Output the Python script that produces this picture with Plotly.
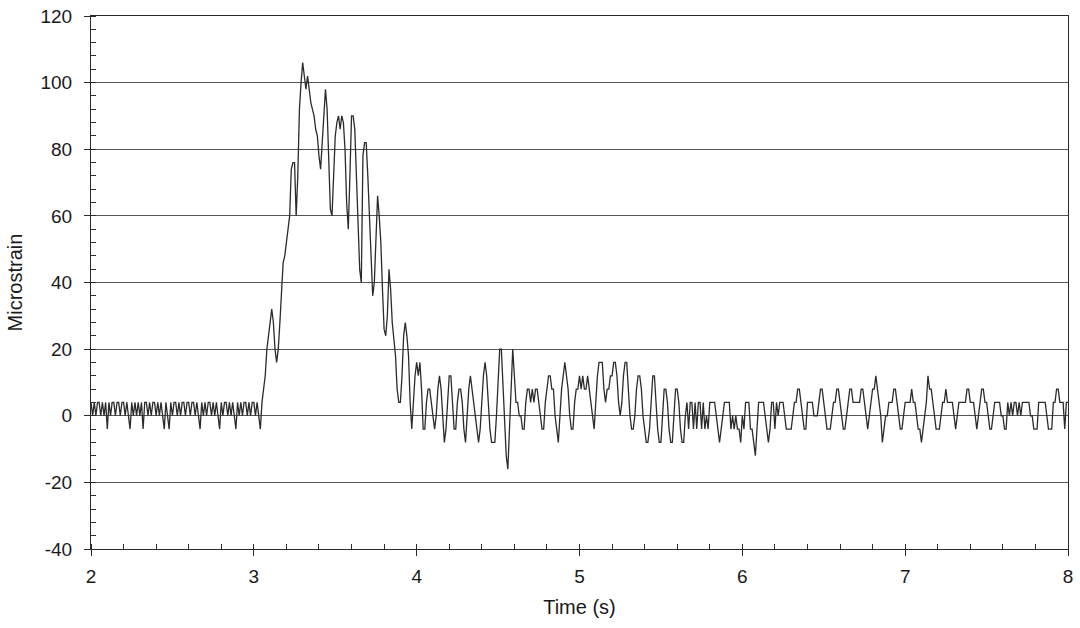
import numpy as np
import plotly.graph_objects as go

# Strain gauge record, sampled every 0.01 s from t = 2.00 s
DT = 0.01
T0 = 2.0

# 2.00 - 2.99 s : quiet baseline
strain_2s = [
    4, 0, 4, 0, 4, 4, 0, 4, 0, 4,
    -4, 4, 0, 4, 4, 0, 4, 4, 0, 4,
    4, 0, 4, 0, -4, 4, 0, 4, 0, 4,
    0, 4, -4, 4, 4, 0, 4, 0, 4, 4,
    0, 4, 0, 4, 0, -4, 4, 0, -4, 4,
    0, 4, 4, 0, 4, 0, 4, 4, 0, 4,
    4, 0, 4, 4, 0, 4, 0, -4, 4, 0,
    4, 0, 4, 4, 0, 4, 0, 4, 0, -4,
    4, 0, 4, 4, 0, 4, 0, 4, 0, -4,
    4, 0, 4, 0, 4, 4, 0, 4, 0, 4,
]

# 3.00 - 3.99 s : load passage
strain_3s = [
    4, 0, 4, 0, -4, 4, 8, 12, 20, 24,
    28, 32, 28, 20, 16, 20, 28, 36, 46, 48,
    52, 56, 60, 74, 76, 76, 60, 72, 92, 100,
    106, 102, 98, 102, 98, 94, 92, 90, 86, 84,
    78, 74, 82, 92, 98, 92, 74, 62, 60, 70,
    84, 88, 90, 86, 90, 88, 80, 64, 56, 72,
    90, 90, 86, 72, 58, 44, 40, 78, 82, 82,
    72, 58, 44, 36, 40, 54, 66, 60, 52, 38,
    26, 24, 30, 44, 38, 28, 22, 18, 8, 4,
    4, 12, 24, 28, 24, 18, 4, -4, 4, 12,
]

# 4.00 - 4.99 s : free vibration
strain_4s = [
    16, 12, 16, 8, -4, -4, 4, 8, 8, 4,
    0, -4, 0, 8, 12, 8, 0, -8, -4, 4,
    12, 12, 4, -4, -4, 4, 8, 8, 4, -4,
    -8, 0, 8, 12, 8, 4, 0, -4, -8, -4,
    4, 12, 16, 12, 4, -4, -8, -8, -8, 0,
    12, 20, 20, 8, -4, -12, -16, -4, 12, 20,
    12, 4, 4, 0, 0, -4, -4, 4, 8, 8,
    4, 8, 4, 8, 8, 4, 0, -4, -4, 4,
    8, 12, 12, 8, 8, 0, -4, -8, 0, 8,
    12, 16, 12, 8, 0, -4, -4, 4, 8, 8,
]

# 5.00 - 5.99 s
strain_5s = [
    12, 8, 12, 8, 8, 12, 8, 4, 0, -4,
    4, 12, 16, 16, 16, 8, 4, 8, 8, 12,
    12, 16, 16, 12, 4, 0, 4, 12, 16, 16,
    8, 0, -4, -4, 0, 8, 12, 12, 8, 0,
    -4, -8, -8, -4, 4, 12, 12, 4, -4, -8,
    -8, 0, 8, 8, 4, -4, -8, -8, 0, 8,
    8, 4, -4, -8, -8, 0, 4, -4, 4, 4,
    -4, 4, -4, 4, 4, -4, 4, -4, 0, -4,
    4, 4, 4, 4, 0, -4, -8, -4, 0, 4,
    4, 4, 4, -4, 0, -4, 0, -4, -4, -8,
]

# 6.00 - 6.99 s
strain_6s = [
    0, -4, 4, 4, 4, -4, -4, -8, -12, -4,
    4, 4, 4, 4, 0, -4, -8, -4, 4, 4,
    -4, 4, 0, 4, 4, 4, 0, -4, -4, -4,
    -4, 0, 4, 4, 8, 8, 4, 0, -4, -4,
    4, 4, 4, 4, 0, 0, 0, 4, 8, 8,
    4, 0, -4, -4, -4, 0, 4, 4, 8, 8,
    4, 0, -4, -4, 0, 4, 8, 8, 4, 4,
    4, 4, 4, 8, 8, 4, 0, -4, 0, 4,
    8, 8, 12, 8, 4, 0, -8, -4, 0, 0,
    4, 4, 4, 8, 8, 4, 0, -4, -4, 0,
]

# 7.00 - 8.00 s
strain_7s = [
    4, 4, 4, 4, 8, 4, 4, 0, -4, -4,
    -8, -4, 0, 4, 12, 8, 8, 4, 0, -4,
    -4, -4, 0, 4, 4, 8, 4, 4, 4, 4,
    0, -4, 0, 4, 4, 4, 4, 4, 8, 8,
    4, 4, 4, 0, -4, 0, 4, 8, 8, 4,
    4, 0, -4, -4, 0, 4, 4, 4, 4, 0,
    0, -4, -4, 4, 0, 4, 0, 4, 4, 0,
    4, 0, 4, 4, 4, 4, 4, 0, 0, -4,
    -4, -4, 4, 4, 4, 4, 4, 0, -4, -4,
    -4, 4, 4, 8, 8, 4, 4, 4, -4, 4,
    4,
]

# axis tick labels
y_ticks = [-40, -20, 0, 20, 40, 60, 80, 100, 120]
y_labels = ["-40", "-20", "0", "20", "40", "60", "80", "100", "120"]
x_ticks = [2, 3, 4, 5, 6, 7, 8]
x_labels = ["2", "3", "4", "5", "6", "7", "8"]

strain = strain_2s + strain_3s + strain_4s + strain_5s + strain_6s + strain_7s
time_s = T0 + np.arange(len(strain)) * DT

FONT = "Liberation Sans, Arial, sans-serif"
INK = "#2b2b2b"

fig = go.Figure()
fig.add_trace(go.Scatter(
    x=time_s, y=strain, mode="lines",
    line=dict(color=INK, width=1.3),
    hoverinfo="skip", showlegend=False,
))
# empty trace to activate the overlay axis carrying inward major x ticks
fig.add_trace(go.Scatter(x=[2, 8], y=[None, None], xaxis="x2",
                         mode="lines", showlegend=False, hoverinfo="skip"))

fig.update_layout(
    width=1080, height=628,
    margin=dict(l=91, r=12, t=16, b=79),
    paper_bgcolor="white", plot_bgcolor="white",
    font=dict(family=FONT, size=19, color="#1a1a1a"),
    xaxis=dict(
        range=[2, 8], tickmode="array", tickvals=x_ticks, ticktext=x_labels,
        ticks="outside", ticklen=6, tickwidth=1, tickcolor=INK,
        minor=dict(tick0=2, dtick=0.2, ticks="inside", ticklen=5, tickwidth=1,
                   tickcolor=INK, showgrid=False),
        showgrid=False, zeroline=False, automargin=False,
        showline=True, linecolor=INK, linewidth=1.2, mirror=True,
        title=dict(text="Time (s)", font=dict(size=20), standoff=14),
        ticklabelstandoff=4,
    ),
    xaxis2=dict(
        range=[2, 8], overlaying="x", anchor="y", side="bottom",
        tickmode="array", tickvals=x_ticks, ticks="inside", ticklen=5,
        tickwidth=1, tickcolor=INK, showticklabels=False, showgrid=False,
        zeroline=False, showline=False, automargin=False,
    ),
    yaxis=dict(
        range=[-40, 120], tickmode="array", tickvals=y_ticks, ticktext=y_labels,
        ticks="outside", ticklen=6, tickwidth=1, tickcolor=INK,
        minor=dict(tick0=-40, dtick=4, ticks="inside", ticklen=5, tickwidth=1,
                   tickcolor=INK, showgrid=False),
        showgrid=True, gridcolor="#555555", gridwidth=1,
        zeroline=True, zerolinecolor="#555555", zerolinewidth=1,
        showline=True, linecolor=INK, linewidth=1.2, mirror=True,
        automargin=False,
        title=dict(text="Microstrain", font=dict(size=20), standoff=12),
        ticklabelstandoff=8,
    ),
)

fig.write_html("out.html")
